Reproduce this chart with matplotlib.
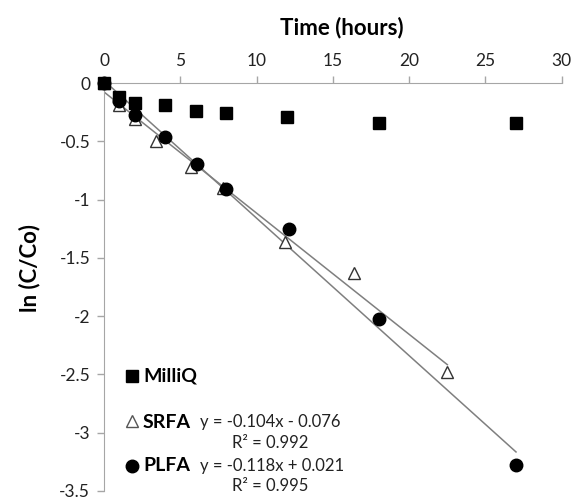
import numpy as np
import matplotlib.pyplot as plt

# data
t_milliq = [0, 1, 2, 4, 6, 8, 12, 18, 27]
y_milliq = [0, -0.12, -0.17, -0.19, -0.235, -0.26, -0.29, -0.345, -0.345]

t_srfa = [0, 1, 2, 3.4, 5.7, 7.8, 11.85, 16.4, 22.5]
y_srfa = [0, -0.19, -0.31, -0.5, -0.72, -0.9, -1.36, -1.63, -2.48]

t_plfa = [0, 1, 2, 4, 6.1, 8, 12.1, 18, 27]
y_plfa = [0, -0.15, -0.27, -0.46, -0.69, -0.905, -1.25, -2.02, -3.28]

# linear fits shown on the chart
fit_slope = [-0.104, -0.118]
fit_icpt = [-0.076, 0.021]
fit_r2 = [0.992, 0.995]
fit_xmax = [22.5, 27]

xticks = [0, 5, 10, 15, 20, 25, 30]
yticks = [0, -0.5, -1, -1.5, -2, -2.5, -3, -3.5]

plt.rcParams['font.family'] = ['Lato', 'DejaVu Sans']

fig = plt.figure(figsize=(5.75, 5.01), dpi=100)
ax = fig.add_axes([0.181, 0.02, 0.796, 0.814])

gray = '#a6a6a6'
for i in range(2):
    xs = np.array([0, fit_xmax[i]])
    ax.plot(xs, fit_slope[i]*xs + fit_icpt[i], color='#7f7f7f', lw=1.1, zorder=2)

ax.plot(t_milliq, y_milliq, 's', color='black', ms=9, clip_on=False, zorder=4)
ax.plot(t_srfa, y_srfa, '^', mfc='white', mec='#333333', mew=1.0, ms=9, clip_on=False, zorder=3)
ax.plot(t_plfa, y_plfa, 'o', color='black', ms=9, clip_on=False, zorder=5)

ax.set_xlim(0, 30)
ax.set_ylim(-3.5, 0)
ax.set_xticks(xticks)
ax.set_yticks(yticks)
ax.set_yticklabels(['0', '-0.5', '-1', '-1.5', '-2', '-2.5', '-3', '-3.5'])
ax.xaxis.tick_top()
ax.spines['bottom'].set_visible(False)
ax.spines['right'].set_visible(False)
ax.spines['top'].set_color(gray)
ax.spines['left'].set_color(gray)
ax.tick_params(axis='both', colors=gray, labelcolor='#222222', labelsize=12.5,
               length=5, width=1, pad=5)

fig.text(0.594, 0.946, 'Time (hours)', ha='center', va='center',
         fontsize=16, fontweight='bold')
fig.text(0.052, 0.465, 'ln (C/Co)', ha='center', va='center', rotation=90,
         fontsize=16, fontweight='bold')

# legend-like labels, as in the original
ax.plot(1.8, -2.515, 's', color='black', ms=9, zorder=6)
ax.text(2.55, -2.515, 'MilliQ', fontsize=14, fontweight='bold', va='center')
ax.plot(1.8, -2.9, '^', mfc='white', mec='#555555', ms=9, zorder=6)
ax.text(2.55, -2.91, 'SRFA', fontsize=14, fontweight='bold', va='center')
ax.plot(1.8, -3.285, 'o', color='black', ms=9, zorder=6)
ax.text(2.55, -3.285, 'PLFA', fontsize=14, fontweight='bold', va='center')

eq_y = [-2.91, -3.285]
for i in range(2):
    sign = '-' if fit_icpt[i] < 0 else '+'
    ax.text(6.3, eq_y[i], 'y = %.3fx %s %.3f' % (fit_slope[i], sign, abs(fit_icpt[i])),
            fontsize=12, va='center', color='#222222')
    ax.text(8.4, eq_y[i] - 0.175, 'R² = %.3f' % fit_r2[i], fontsize=12,
            va='center', color='#222222')

fig.savefig('out.png', dpi=100)
